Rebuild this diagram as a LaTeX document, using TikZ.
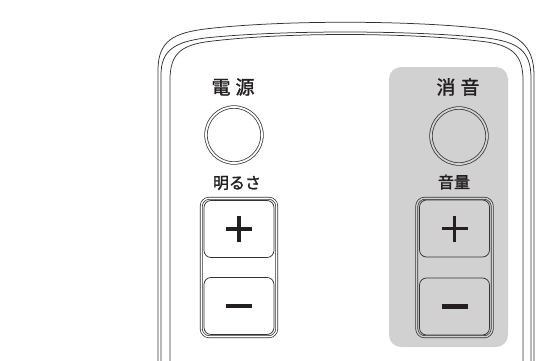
\documentclass[tikz,border=0pt]{standalone}
\usepackage{fontspec}
\newfontfamily\jpfont[FakeBold=1.6]{Noto Sans CJK JP}
\usepackage{tikz}
\usepackage{xcolor}
\definecolor{lineGray}{HTML}{333333}
\definecolor{panelGray}{HTML}{D1D1D2}
\definecolor{inkBlack}{HTML}{231F20}
\tikzstyle{myRing}=[circle, draw=lineGray, line width=0.75pt, double=white, double distance=1.8pt, minimum size=56pt, inner sep=0pt]
\tikzstyle{myFrame}=[rectangle, rounded corners=8pt, draw=lineGray, line width=0.75pt, double=white, double distance=1.3pt, minimum width=75.5pt, minimum height=138.5pt, inner sep=0pt]
\tikzstyle{myKey}=[rectangle, rounded corners=7pt, draw=lineGray, line width=0.75pt, fill=white, minimum width=70pt, minimum height=57pt, inner sep=0pt]
\tikzstyle{myLabel}=[text=inkBlack, font=\jpfont\fontsize{19pt}{19pt}\selectfont, inner sep=0pt]
\tikzstyle{mySmallLabel}=[text=inkBlack, font=\jpfont\fontsize{16pt}{16pt}\selectfont, inner sep=0pt]
\tikzstyle{mySign}=[line width=3.8pt, draw=inkBlack]
\tikzstyle{myBody}=[line width=0.75pt, draw=lineGray]

\begin{document}
\begin{tikzpicture}[x=1pt,y=-1pt]
   \useasboundingbox (0,0) rectangle (547,360);

   % remote body, three outlines
   \draw[myBody] (158,365) -- (158,70) .. controls (158,40) and (175,33) .. (205,29)
      .. controls (280,20) and (410,20) .. (487,29) .. controls (517,33) and (534,45) .. (534,75) -- (534,365);
   \draw[myBody] (161,365) -- (161,75) .. controls (161,50) and (175,42) .. (205,38)
      .. controls (280,30) and (410,30) .. (487,38) .. controls (517,42) and (531,50) .. (531,78) -- (531,365);
   \draw[myBody] (170,365) -- (170,80) .. controls (170,55) and (180,46) .. (205,42)
      .. controls (280,32) and (410,32) .. (487,42) .. controls (512,46) and (523,55) .. (523,80) -- (523,365);

   % gray panel behind the sound keys
   \fill[panelGray, rounded corners=12pt] (389,67) rectangle (508,347);

   % left column
   \node[myLabel] (pwrT) at (233,87) {電\hspace{5pt}源};
   \node[myRing] (pwr) at (234,135) {};
   \node[mySmallLabel] (briT) at (237,183) {明るさ};
   \node[myFrame] (briF) at (239,267.5) {};
   \node[myKey] (briUp) at (239,229) {};
   \node[myKey] (briDn) at (239,306) {};
   \draw[mySign] ([xshift=-13pt]briUp.center) -- ([xshift=13pt]briUp.center);
   \draw[mySign] ([yshift=13pt]briUp.center) -- ([yshift=-13pt]briUp.center);
   \draw[mySign, line width=4.2pt] ([xshift=-13pt]briDn.center) -- ([xshift=13pt]briDn.center);

   % right column
   \node[myLabel] (muteT) at (458,87) {消\hspace{5pt}音};
   \node[myRing, double=panelGray] (mute) at (459,136) {};
   \node[mySmallLabel] (volT) at (454,182) {音量};
   \node[myFrame, double=panelGray] (volF) at (454.5,267.5) {};
   \node[myKey, fill=panelGray] (volUp) at (454.5,228.5) {};
   \node[myKey, fill=panelGray] (volDn) at (454.5,306.5) {};
   \draw[mySign] ([xshift=-13pt]volUp.center) -- ([xshift=13pt]volUp.center);
   \draw[mySign] ([yshift=13pt]volUp.center) -- ([yshift=-13pt]volUp.center);
   \draw[mySign, line width=4.2pt] ([xshift=-13pt]volDn.center) -- ([xshift=13pt]volDn.center);

\end{tikzpicture}
\end{document}
